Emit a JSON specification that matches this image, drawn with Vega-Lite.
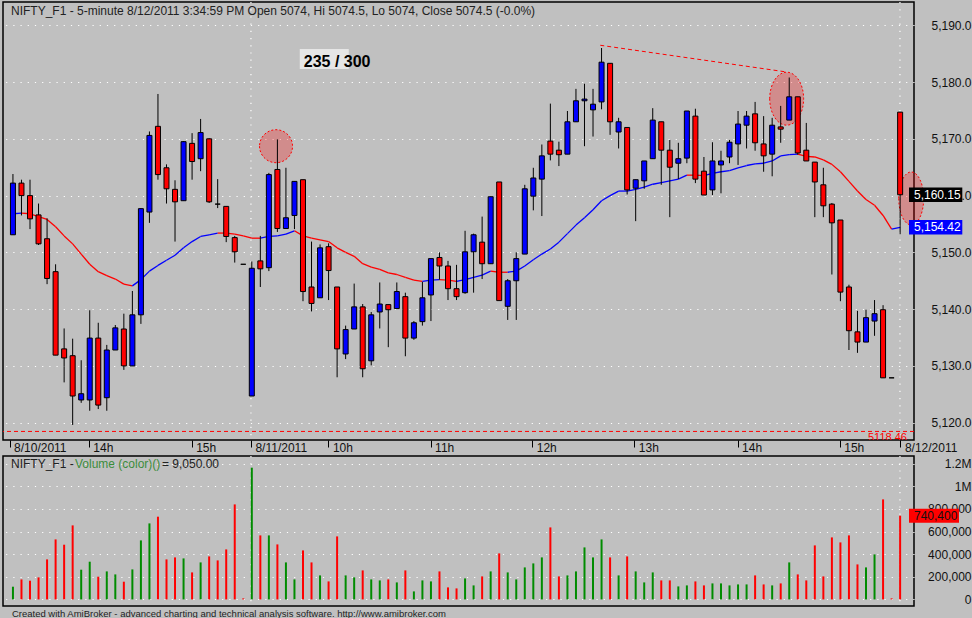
{
  "$schema": "https://vega.github.io/schema/vega-lite/v6.json",
  "background": "#c0c0c0",
  "padding": {"left": 1, "top": 0, "right": 0, "bottom": 0},
  "bounds": "flush",
  "spacing": 16,
  "datasets": {
    "bars": [
      {"bar": 0, "open": 5153.1, "high": 5163.8, "low": 5153.1, "close": 5162.2, "volume": 112400, "ma": 5156.8, "ma_trend": "up"},
      {"bar": 1, "open": 5162.2, "high": 5162.8, "low": 5156.5, "close": 5160.0, "volume": 177000, "ma": 5156.9, "ma_trend": "down"},
      {"bar": 2, "open": 5160.0, "high": 5162.8, "low": 5154.1, "close": 5155.9, "volume": 165500, "ma": 5156.8, "ma_trend": "down"},
      {"bar": 3, "open": 5156.6, "high": 5158.6, "low": 5151.3, "close": 5151.5, "volume": 194700, "ma": 5156.3, "ma_trend": "down"},
      {"bar": 4, "open": 5152.4, "high": 5156.0, "low": 5144.4, "close": 5145.4, "volume": 354000, "ma": 5155.8, "ma_trend": "down"},
      {"bar": 5, "open": 5146.6, "high": 5147.9, "low": 5131.9, "close": 5131.9, "volume": 531000, "ma": 5154.5, "ma_trend": "down"},
      {"bar": 6, "open": 5133.0, "high": 5136.6, "low": 5127.1, "close": 5131.4, "volume": 484000, "ma": 5152.9, "ma_trend": "down"},
      {"bar": 7, "open": 5131.8, "high": 5134.8, "low": 5119.6, "close": 5124.7, "volume": 655000, "ma": 5151.5, "ma_trend": "down"},
      {"bar": 8, "open": 5124.0, "high": 5131.0, "low": 5123.5, "close": 5125.1, "volume": 262800, "ma": 5149.7, "ma_trend": "down"},
      {"bar": 9, "open": 5124.0, "high": 5139.8, "low": 5122.1, "close": 5134.9, "volume": 333600, "ma": 5147.9, "ma_trend": "down"},
      {"bar": 10, "open": 5134.9, "high": 5137.6, "low": 5122.4, "close": 5123.1, "volume": 200900, "ma": 5146.6, "ma_trend": "down"},
      {"bar": 11, "open": 5124.4, "high": 5133.7, "low": 5122.1, "close": 5132.8, "volume": 247800, "ma": 5145.9, "ma_trend": "down"},
      {"bar": 12, "open": 5132.8, "high": 5137.2, "low": 5132.8, "close": 5136.7, "volume": 221200, "ma": 5145.3, "ma_trend": "down"},
      {"bar": 13, "open": 5136.5, "high": 5139.2, "low": 5129.3, "close": 5130.0, "volume": 156600, "ma": 5144.4, "ma_trend": "down"},
      {"bar": 14, "open": 5130.0, "high": 5143.2, "low": 5130.0, "close": 5139.0, "volume": 265500, "ma": 5144.1, "ma_trend": "up"},
      {"bar": 15, "open": 5139.0, "high": 5157.8, "low": 5137.4, "close": 5157.7, "volume": 522100, "ma": 5145.2, "ma_trend": "up"},
      {"bar": 16, "open": 5157.1, "high": 5171.3, "low": 5155.2, "close": 5170.6, "volume": 672600, "ma": 5146.7, "ma_trend": "up"},
      {"bar": 17, "open": 5172.2, "high": 5177.9, "low": 5162.8, "close": 5163.7, "volume": 731900, "ma": 5147.7, "ma_trend": "up"},
      {"bar": 18, "open": 5164.9, "high": 5165.5, "low": 5158.6, "close": 5161.2, "volume": 354000, "ma": 5148.6, "ma_trend": "up"},
      {"bar": 19, "open": 5161.1, "high": 5162.7, "low": 5151.9, "close": 5158.9, "volume": 371700, "ma": 5149.5, "ma_trend": "up"},
      {"bar": 20, "open": 5159.1, "high": 5169.6, "low": 5159.1, "close": 5169.5, "volume": 362800, "ma": 5150.8, "ma_trend": "up"},
      {"bar": 21, "open": 5169.2, "high": 5171.0, "low": 5162.8, "close": 5166.0, "volume": 238900, "ma": 5151.9, "ma_trend": "up"},
      {"bar": 22, "open": 5166.5, "high": 5173.5, "low": 5164.3, "close": 5171.1, "volume": 327400, "ma": 5152.8, "ma_trend": "up"},
      {"bar": 23, "open": 5170.0, "high": 5170.1, "low": 5158.7, "close": 5158.9, "volume": 380500, "ma": 5153.1, "ma_trend": "up"},
      {"bar": 24, "open": 5158.5, "high": 5162.9, "low": 5157.8, "close": 5158.5, "volume": 345100, "ma": 5153.4, "ma_trend": "down"},
      {"bar": 25, "open": 5158.1, "high": 5158.1, "low": 5151.8, "close": 5152.8, "volume": 442500, "ma": 5153.4, "ma_trend": "down"},
      {"bar": 26, "open": 5152.6, "high": 5152.9, "low": 5148.2, "close": 5150.1, "volume": 840700, "ma": 5153.2, "ma_trend": "down"},
      {"bar": 27, "open": 5147.9, "high": 5147.9, "low": 5147.9, "close": 5147.9, "volume": 9050, "ma": 5152.9, "ma_trend": "down"},
      {"bar": 28, "open": 5124.7, "high": 5148.4, "low": 5124.7, "close": 5147.2, "volume": 1165500, "ma": 5152.5, "ma_trend": "down"},
      {"bar": 29, "open": 5148.5, "high": 5152.9, "low": 5143.9, "close": 5147.1, "volume": 566400, "ma": 5152.5, "ma_trend": "up"},
      {"bar": 30, "open": 5147.3, "high": 5164.0, "low": 5146.7, "close": 5163.7, "volume": 566400, "ma": 5152.8, "ma_trend": "up"},
      {"bar": 31, "open": 5164.6, "high": 5169.9, "low": 5153.6, "close": 5154.2, "volume": 486700, "ma": 5152.9, "ma_trend": "up"},
      {"bar": 32, "open": 5154.2, "high": 5164.9, "low": 5154.2, "close": 5156.1, "volume": 327400, "ma": 5153.2, "ma_trend": "up"},
      {"bar": 33, "open": 5156.5, "high": 5162.5, "low": 5154.1, "close": 5162.5, "volume": 177000, "ma": 5153.8, "ma_trend": "down"},
      {"bar": 34, "open": 5162.8, "high": 5162.8, "low": 5141.4, "close": 5143.1, "volume": 433600, "ma": 5152.9, "ma_trend": "down"},
      {"bar": 35, "open": 5143.9, "high": 5151.9, "low": 5139.6, "close": 5141.0, "volume": 327400, "ma": 5152.5, "ma_trend": "down"},
      {"bar": 36, "open": 5142.0, "high": 5151.4, "low": 5142.0, "close": 5150.8, "volume": 212400, "ma": 5152.2, "ma_trend": "down"},
      {"bar": 37, "open": 5151.0, "high": 5151.6, "low": 5141.6, "close": 5146.8, "volume": 159300, "ma": 5151.9, "ma_trend": "down"},
      {"bar": 38, "open": 5143.9, "high": 5143.9, "low": 5128.0, "close": 5133.0, "volume": 557500, "ma": 5150.8, "ma_trend": "down"},
      {"bar": 39, "open": 5132.1, "high": 5137.1, "low": 5131.2, "close": 5136.4, "volume": 212400, "ma": 5150.0, "ma_trend": "down"},
      {"bar": 40, "open": 5136.5, "high": 5144.5, "low": 5136.5, "close": 5140.4, "volume": 194700, "ma": 5149.3, "ma_trend": "down"},
      {"bar": 41, "open": 5140.4, "high": 5140.9, "low": 5128.0, "close": 5129.5, "volume": 256600, "ma": 5148.0, "ma_trend": "down"},
      {"bar": 42, "open": 5130.9, "high": 5139.5, "low": 5130.1, "close": 5139.0, "volume": 177000, "ma": 5147.4, "ma_trend": "down"},
      {"bar": 43, "open": 5139.5, "high": 5144.7, "low": 5136.6, "close": 5140.9, "volume": 168100, "ma": 5147.0, "ma_trend": "down"},
      {"bar": 44, "open": 5140.8, "high": 5140.8, "low": 5133.3, "close": 5139.9, "volume": 177000, "ma": 5146.4, "ma_trend": "down"},
      {"bar": 45, "open": 5140.1, "high": 5144.7, "low": 5140.1, "close": 5143.1, "volume": 150400, "ma": 5146.1, "ma_trend": "down"},
      {"bar": 46, "open": 5142.2, "high": 5142.9, "low": 5131.7, "close": 5134.9, "volume": 256600, "ma": 5145.6, "ma_trend": "down"},
      {"bar": 47, "open": 5134.9, "high": 5137.9, "low": 5134.6, "close": 5137.6, "volume": 70800, "ma": 5145.1, "ma_trend": "down"},
      {"bar": 48, "open": 5137.8, "high": 5144.8, "low": 5137.1, "close": 5142.0, "volume": 168100, "ma": 5144.9, "ma_trend": "up"},
      {"bar": 49, "open": 5142.5, "high": 5148.9, "low": 5137.9, "close": 5148.9, "volume": 159300, "ma": 5145.1, "ma_trend": "up"},
      {"bar": 50, "open": 5149.1, "high": 5150.0, "low": 5145.2, "close": 5147.6, "volume": 247800, "ma": 5145.2, "ma_trend": "down"},
      {"bar": 51, "open": 5147.6, "high": 5148.5, "low": 5141.6, "close": 5143.6, "volume": 106200, "ma": 5145.1, "ma_trend": "down"},
      {"bar": 52, "open": 5143.6, "high": 5147.8, "low": 5141.6, "close": 5142.2, "volume": 97300, "ma": 5144.9, "ma_trend": "up"},
      {"bar": 53, "open": 5142.9, "high": 5153.8, "low": 5142.7, "close": 5150.1, "volume": 185800, "ma": 5145.2, "ma_trend": "up"},
      {"bar": 54, "open": 5150.1, "high": 5153.3, "low": 5142.9, "close": 5153.1, "volume": 123900, "ma": 5145.6, "ma_trend": "up"},
      {"bar": 55, "open": 5151.8, "high": 5156.3, "low": 5145.3, "close": 5148.0, "volume": 203500, "ma": 5146.0, "ma_trend": "up"},
      {"bar": 56, "open": 5148.0, "high": 5159.8, "low": 5148.0, "close": 5159.8, "volume": 247800, "ma": 5146.7, "ma_trend": "down"},
      {"bar": 57, "open": 5162.4, "high": 5162.4, "low": 5141.5, "close": 5141.5, "volume": 407100, "ma": 5146.5, "ma_trend": "down"},
      {"bar": 58, "open": 5140.5, "high": 5145.3, "low": 5138.1, "close": 5145.0, "volume": 238900, "ma": 5146.5, "ma_trend": "up"},
      {"bar": 59, "open": 5145.0, "high": 5150.0, "low": 5138.1, "close": 5148.9, "volume": 177000, "ma": 5146.7, "ma_trend": "up"},
      {"bar": 60, "open": 5149.7, "high": 5161.9, "low": 5149.7, "close": 5161.2, "volume": 283200, "ma": 5147.6, "ma_trend": "up"},
      {"bar": 61, "open": 5159.9, "high": 5164.9, "low": 5157.4, "close": 5163.1, "volume": 318600, "ma": 5148.7, "ma_trend": "up"},
      {"bar": 62, "open": 5162.9, "high": 5169.0, "low": 5156.4, "close": 5167.0, "volume": 371700, "ma": 5149.7, "ma_trend": "up"},
      {"bar": 63, "open": 5169.6, "high": 5176.2, "low": 5166.2, "close": 5167.3, "volume": 637200, "ma": 5150.6, "ma_trend": "up"},
      {"bar": 64, "open": 5168.0, "high": 5169.5, "low": 5165.2, "close": 5167.2, "volume": 203500, "ma": 5151.8, "ma_trend": "up"},
      {"bar": 65, "open": 5167.3, "high": 5174.9, "low": 5167.3, "close": 5173.0, "volume": 212400, "ma": 5153.3, "ma_trend": "up"},
      {"bar": 66, "open": 5173.0, "high": 5178.8, "low": 5173.0, "close": 5176.7, "volume": 247800, "ma": 5154.8, "ma_trend": "up"},
      {"bar": 67, "open": 5176.7, "high": 5179.7, "low": 5168.7, "close": 5177.0, "volume": 460200, "ma": 5156.1, "ma_trend": "up"},
      {"bar": 68, "open": 5175.1, "high": 5178.8, "low": 5170.4, "close": 5176.1, "volume": 371700, "ma": 5157.5, "ma_trend": "up"},
      {"bar": 69, "open": 5176.5, "high": 5186.0, "low": 5175.2, "close": 5183.5, "volume": 531000, "ma": 5159.1, "ma_trend": "up"},
      {"bar": 70, "open": 5183.3, "high": 5183.3, "low": 5170.7, "close": 5173.0, "volume": 371700, "ma": 5160.0, "ma_trend": "up"},
      {"bar": 71, "open": 5171.2, "high": 5173.7, "low": 5168.3, "close": 5173.0, "volume": 212400, "ma": 5160.8, "ma_trend": "up"},
      {"bar": 72, "open": 5172.0, "high": 5172.0, "low": 5160.2, "close": 5161.0, "volume": 380500, "ma": 5160.8, "ma_trend": "up"},
      {"bar": 73, "open": 5161.3, "high": 5162.8, "low": 5155.5, "close": 5162.8, "volume": 247800, "ma": 5161.1, "ma_trend": "up"},
      {"bar": 74, "open": 5162.6, "high": 5166.1, "low": 5161.2, "close": 5166.1, "volume": 150400, "ma": 5161.5, "ma_trend": "up"},
      {"bar": 75, "open": 5166.5, "high": 5175.4, "low": 5166.5, "close": 5173.3, "volume": 238900, "ma": 5162.0, "ma_trend": "up"},
      {"bar": 76, "open": 5173.0, "high": 5173.0, "low": 5161.9, "close": 5168.0, "volume": 168100, "ma": 5162.3, "ma_trend": "up"},
      {"bar": 77, "open": 5168.0, "high": 5169.8, "low": 5156.2, "close": 5165.0, "volume": 168100, "ma": 5162.6, "ma_trend": "up"},
      {"bar": 78, "open": 5165.7, "high": 5169.3, "low": 5162.9, "close": 5166.5, "volume": 115000, "ma": 5162.9, "ma_trend": "up"},
      {"bar": 79, "open": 5166.6, "high": 5174.9, "low": 5165.7, "close": 5174.9, "volume": 123900, "ma": 5163.6, "ma_trend": "down"},
      {"bar": 80, "open": 5174.0, "high": 5175.3, "low": 5162.2, "close": 5162.9, "volume": 159300, "ma": 5163.6, "ma_trend": "down"},
      {"bar": 81, "open": 5164.3, "high": 5166.8, "low": 5160.1, "close": 5160.1, "volume": 123900, "ma": 5163.5, "ma_trend": "up"},
      {"bar": 82, "open": 5161.0, "high": 5169.4, "low": 5160.1, "close": 5166.1, "volume": 141600, "ma": 5163.9, "ma_trend": "up"},
      {"bar": 83, "open": 5165.4, "high": 5167.9, "low": 5160.4, "close": 5166.1, "volume": 141600, "ma": 5164.2, "ma_trend": "up"},
      {"bar": 84, "open": 5166.8, "high": 5169.8, "low": 5165.7, "close": 5169.4, "volume": 123900, "ma": 5164.4, "ma_trend": "up"},
      {"bar": 85, "open": 5169.1, "high": 5174.9, "low": 5165.4, "close": 5172.6, "volume": 132700, "ma": 5164.9, "ma_trend": "up"},
      {"bar": 86, "open": 5172.4, "high": 5174.9, "low": 5168.3, "close": 5174.0, "volume": 132700, "ma": 5165.3, "ma_trend": "up"},
      {"bar": 87, "open": 5174.4, "high": 5176.5, "low": 5167.9, "close": 5169.3, "volume": 212400, "ma": 5165.6, "ma_trend": "up"},
      {"bar": 88, "open": 5169.1, "high": 5174.0, "low": 5164.2, "close": 5167.0, "volume": 132700, "ma": 5165.7, "ma_trend": "up"},
      {"bar": 89, "open": 5167.3, "high": 5173.7, "low": 5163.4, "close": 5172.4, "volume": 123900, "ma": 5166.1, "ma_trend": "up"},
      {"bar": 90, "open": 5172.1, "high": 5175.8, "low": 5169.3, "close": 5171.7, "volume": 141600, "ma": 5167.0, "ma_trend": "up"},
      {"bar": 91, "open": 5173.3, "high": 5180.8, "low": 5173.3, "close": 5177.4, "volume": 327400, "ma": 5167.2, "ma_trend": "up"},
      {"bar": 92, "open": 5177.4, "high": 5177.4, "low": 5167.2, "close": 5167.5, "volume": 221200, "ma": 5167.3, "ma_trend": "down"},
      {"bar": 93, "open": 5168.0, "high": 5172.8, "low": 5166.1, "close": 5166.1, "volume": 168100, "ma": 5166.9, "ma_trend": "down"},
      {"bar": 94, "open": 5165.9, "high": 5165.9, "low": 5156.2, "close": 5162.4, "volume": 477900, "ma": 5166.8, "ma_trend": "down"},
      {"bar": 95, "open": 5161.9, "high": 5164.9, "low": 5156.2, "close": 5158.2, "volume": 203500, "ma": 5166.3, "ma_trend": "down"},
      {"bar": 96, "open": 5158.5, "high": 5158.7, "low": 5146.1, "close": 5155.2, "volume": 548700, "ma": 5165.5, "ma_trend": "down"},
      {"bar": 97, "open": 5155.7, "high": 5155.7, "low": 5141.4, "close": 5143.0, "volume": 504400, "ma": 5164.2, "ma_trend": "down"},
      {"bar": 98, "open": 5143.9, "high": 5144.3, "low": 5132.8, "close": 5136.2, "volume": 566400, "ma": 5162.5, "ma_trend": "down"},
      {"bar": 99, "open": 5136.0, "high": 5139.7, "low": 5132.3, "close": 5134.2, "volume": 309700, "ma": 5160.8, "ma_trend": "down"},
      {"bar": 100, "open": 5134.2, "high": 5139.9, "low": 5134.2, "close": 5138.5, "volume": 283200, "ma": 5159.3, "ma_trend": "down"},
      {"bar": 101, "open": 5137.9, "high": 5141.6, "low": 5135.3, "close": 5139.2, "volume": 398200, "ma": 5158.3, "ma_trend": "down"},
      {"bar": 102, "open": 5139.9, "high": 5140.7, "low": 5127.9, "close": 5127.9, "volume": 885000, "ma": 5156.5, "ma_trend": "down"},
      {"bar": 103, "open": 5127.9, "high": 5127.9, "low": 5127.9, "close": 5127.9, "volume": 9000, "ma": 5154.1, "ma_trend": "up"},
      {"bar": 104, "open": 5174.7, "high": 5174.7, "low": 5153.2, "close": 5160.15, "volume": 740400, "ma": 5154.42, "ma_trend": "-"}
    ],
    "days": [{"bar": 27.9}, {"bar": 103.98}]
  },
  "vconcat": [
    {
      "width": 911,
      "height": 438,
      "layer": [
        {
          "data": {"name": "days"},
          "mark": {"type": "rule", "color": "#ffffff", "strokeWidth": 1.2, "strokeDash": [1.2, 6]},
          "encoding": {
            "x": {
              "field": "bar",
              "type": "quantitative",
              "title": null,
              "scale": {"domain": [-0.58, 105.04], "nice": false, "zero": false},
              "axis": {
                "orient": "bottom",
                "values": [-0.4, 8.9, 20.95, 27.9, 36.98, 48.96, 60.87, 72.84, 84.95, 96.92, 104.03],
                "tickCount": 20,
                "labelExpr": "['8/10/2011','14h','15h','8/11/2011','10h','11h','12h','13h','14h','15h','8/12/2011'][indexof([-0.4, 8.9, 20.95, 27.9, 36.98, 48.96, 60.87, 72.84, 84.95, 96.92, 104.03], datum.value)]",
                "grid": false,
                "domain": false,
                "ticks": true,
                "tickSize": 7,
                "tickColor": "#000000",
                "tickWidth": 1,
                "labelAlign": "left",
                "labelBaseline": "top",
                "labelPadding": -5,
                "labelOffset": 4,
                "labelColor": "#111111",
                "labelFontSize": 12,
                "labelOverlap": false,
                "labelFlush": false,
                "labelBound": false
              }
            }
          }
        },
        {
          "data": {"values": [{"bar": 30.84, "price": 5168.7}]},
          "mark": {"type": "point", "shape": "M-1,0A1,1,0,1,0,1,0A1,1,0,1,0,-1,0Z", "size": 1089, "filled": true, "fill": "#ff0000", "fillOpacity": 0.27, "stroke": "#ff0000", "strokeOpacity": 1, "strokeWidth": 1, "strokeDash": [2, 2], "opacity": 1},
          "encoding": {
            "x": {"field": "bar", "type": "quantitative", "title": null},
            "y": {"field": "price", "type": "quantitative", "title": null}
          }
        },
        {
          "data": {"values": [{"bar": 90.7, "price": 5177.07}]},
          "mark": {"type": "point", "shape": "M-0.64,0A0.64,1,0,1,0,0.64,0A0.64,1,0,1,0,-0.64,0Z", "size": 2809, "filled": true, "fill": "#ff0000", "fillOpacity": 0.27, "stroke": "#ff0000", "strokeOpacity": 1, "strokeWidth": 1, "strokeDash": [2, 2], "opacity": 1},
          "encoding": {
            "x": {"field": "bar", "type": "quantitative", "title": null},
            "y": {"field": "price", "type": "quantitative", "title": null}
          }
        },
        {
          "data": {"values": [{"bar": 105.3, "price": 5159.5}]},
          "mark": {"type": "point", "shape": "M-0.47,0A0.47,1,0,1,0,0.47,0A0.47,1,0,1,0,-0.47,0Z", "size": 2809, "filled": true, "fill": "#ff0000", "fillOpacity": 0.27, "stroke": "#ff0000", "strokeOpacity": 1, "strokeWidth": 1, "strokeDash": [2, 2], "opacity": 1},
          "encoding": {
            "x": {"field": "bar", "type": "quantitative", "title": null},
            "y": {"field": "price", "type": "quantitative", "title": null}
          }
        },
        {
          "data": {"name": "bars"},
          "transform": [
            {"window": [{"op": "lead", "field": "ma", "as": "ma_next"}, {"op": "lead", "field": "bar", "as": "bar_next"}], "sort": [{"field": "bar"}]},
            {"filter": "datum.bar_next != null"}
          ],
          "mark": {"type": "rule", "strokeWidth": 1.3},
          "encoding": {
            "x": {"field": "bar", "type": "quantitative", "title": null},
            "x2": {"field": "bar_next"},
            "y": {"field": "ma", "type": "quantitative", "title": null},
            "y2": {"field": "ma_next"},
            "color": {"condition": {"test": "datum.ma_trend == 'up'", "value": "#0000ff"}, "value": "#ff0000"}
          }
        },
        {
          "data": {"name": "bars"},
          "mark": {"type": "rule", "color": "#000000", "strokeWidth": 1},
          "encoding": {
            "x": {"field": "bar", "type": "quantitative", "title": null},
            "y": {
              "field": "low",
              "type": "quantitative",
              "title": null,
              "scale": {"domain": [5116.95, 5194.1], "nice": false, "zero": false},
              "axis": {
                "orient": "right",
                "values": [5120, 5130, 5140, 5150, 5160, 5170, 5180, 5190],
                "tickCount": 20,
                "format": ",.1f",
                "grid": true,
                "gridColor": "#ffffff",
                "gridDash": [1.2, 6],
                "gridWidth": 1.2,
                "domain": false,
                "ticks": false,
                "tickSize": 0,
                "labelAlign": "right",
                "labelBaseline": "middle",
                "labelPadding": 57,
                "labelColor": "#111111",
                "labelFontSize": 12,
                "labelOverlap": false,
                "labelBound": false
              }
            },
            "y2": {"field": "high"}
          }
        },
        {
          "data": {"name": "bars"},
          "mark": {"type": "bar", "size": 5, "stroke": "#000000", "strokeWidth": 1},
          "encoding": {
            "x": {"field": "bar", "type": "quantitative", "title": null},
            "y": {"field": "open", "type": "quantitative", "title": null},
            "y2": {"field": "close"},
            "color": {"condition": {"test": "datum.close > datum.open", "value": "#0000ff"}, "value": "#ff0000"}
          }
        },
        {
          "data": {"values": [{"bar": 68.85, "price": 5186.48, "bar_end": 90.7, "price_end": 5181.77}]},
          "mark": {"type": "rule", "color": "#ff0000", "strokeWidth": 1, "strokeDash": [4, 3]},
          "encoding": {
            "x": {"field": "bar", "type": "quantitative", "title": null},
            "x2": {"field": "bar_end"},
            "y": {"field": "price", "type": "quantitative", "title": null},
            "y2": {"field": "price_end"}
          }
        },
        {
          "data": {"values": [{"level": 5118.46}]},
          "mark": {"type": "rule", "color": "#ff0000", "strokeWidth": 1, "strokeDash": [4, 3]},
          "encoding": {
            "y": {"field": "level", "type": "quantitative", "title": null}
          }
        },
        {
          "data": {"values": [{"level": 5118.46}]},
          "mark": {"type": "text", "align": "right", "baseline": "top", "dy": 1, "fontSize": 11, "color": "#ff0000", "clip": true},
          "encoding": {
            "x": {"datum": 104.8},
            "y": {"field": "level", "type": "quantitative", "title": null},
            "text": {"field": "level", "format": ".2f"}
          }
        },
        {
          "data": {"values": [{"label": "235 / 300", "bar": 34.09, "price": 5182.65}]},
          "mark": {"type": "point", "shape": "M-0.4,-1.8L4.5,-1.8L4.5,0.2L-0.4,0.2Z", "size": 400, "filled": true, "color": "#e6e6e6", "opacity": 1, "strokeWidth": 0},
          "encoding": {
            "x": {"field": "bar", "type": "quantitative", "title": null},
            "y": {"field": "price", "type": "quantitative", "title": null}
          }
        },
        {
          "data": {"values": [{"label": "235 / 300", "bar": 34.09, "price": 5182.65}]},
          "mark": {"type": "text", "align": "left", "baseline": "alphabetic", "fontSize": 16, "fontWeight": "bold", "color": "#000000"},
          "encoding": {
            "x": {"field": "bar", "type": "quantitative", "title": null},
            "y": {"field": "price", "type": "quantitative", "title": null},
            "text": {"field": "label"}
          }
        },
        {
          "data": {"values": [{"label": "5,160.15", "value": 5160.15, "kind": "close"}, {"label": "5,154.42", "value": 5154.42, "kind": "ma"}]},
          "mark": {"type": "point", "shape": "M0,-0.72L5.33,-0.72L5.33,0.72L0,0.72Z", "size": 400, "filled": true, "opacity": 1, "strokeWidth": 0},
          "encoding": {
            "x": {"datum": 105.04},
            "y": {"field": "value", "type": "quantitative", "title": null},
            "color": {"condition": {"test": "datum.kind == 'close'", "value": "#000000"}, "value": "#0000ff"}
          }
        },
        {
          "data": {"values": [{"label": "5,160.15", "value": 5160.15, "kind": "close"}, {"label": "5,154.42", "value": 5154.42, "kind": "ma"}]},
          "mark": {"type": "text", "align": "left", "baseline": "middle", "dx": 5, "fontSize": 12, "color": "#ffffff"},
          "encoding": {
            "x": {"datum": 105.04},
            "y": {"field": "value", "type": "quantitative", "title": null},
            "text": {"field": "label"}
          }
        },
        {
          "data": {"values": [{"label": "NIFTY_F1 - 5-minute 8/12/2011 3:34:59 PM Open 5074, Hi 5074.5, Lo 5074, Close 5074.5 (-0.0%)"}]},
          "mark": {"type": "text", "align": "left", "baseline": "alphabetic", "fontSize": 12, "color": "#222222"},
          "encoding": {
            "x": {"datum": -0.23},
            "y": {"datum": 5191.87},
            "text": {"field": "label"}
          }
        }
      ]
    },
    {
      "width": 911,
      "height": 150,
      "layer": [
        {
          "data": {"name": "days"},
          "mark": {"type": "rule", "color": "#ffffff", "strokeWidth": 1.2, "strokeDash": [1.2, 6]},
          "encoding": {
            "x": {
              "field": "bar",
              "type": "quantitative",
              "title": null,
              "scale": {"domain": [-0.58, 105.04], "nice": false, "zero": false},
              "axis": null
            }
          }
        },
        {
          "data": {"name": "bars"},
          "mark": {"type": "bar", "size": 2},
          "encoding": {
            "x": {"field": "bar", "type": "quantitative", "title": null},
            "y": {
              "field": "volume",
              "type": "quantitative",
              "title": null,
              "scale": {"domain": [-58400, 1269000], "nice": false, "zero": false},
              "axis": {
                "orient": "right",
                "values": [0, 200000, 400000, 600000, 800000, 1000000, 1200000],
                "tickCount": 20,
                "labelExpr": "datum.value >= 1000000 ? format(datum.value / 1000000, '~g') + 'M' : format(datum.value, ',')",
                "grid": true,
                "gridColor": "#ffffff",
                "gridDash": [1.2, 6],
                "gridWidth": 1.2,
                "domain": false,
                "ticks": false,
                "tickSize": 0,
                "labelAlign": "right",
                "labelBaseline": "middle",
                "labelPadding": 57,
                "labelColor": "#111111",
                "labelFontSize": 12,
                "labelOverlap": false,
                "labelBound": false
              }
            },
            "y2": {"datum": 0},
            "color": {"condition": {"test": "datum.close > datum.open", "value": "#008c00"}, "value": "#ff0000"}
          }
        },
        {
          "data": {"values": [{"label": "740,400", "value": 740400}]},
          "mark": {"type": "point", "shape": "M0,-0.7L5,-0.7L5,0.7L0,0.7Z", "size": 400, "filled": true, "color": "#ff0000", "opacity": 1, "strokeWidth": 0},
          "encoding": {
            "x": {"datum": 105.04},
            "y": {"field": "value", "type": "quantitative", "title": null}
          }
        },
        {
          "data": {"values": [{"label": "740,400", "value": 740400}]},
          "mark": {"type": "text", "align": "left", "baseline": "middle", "dx": 5, "fontSize": 12, "color": "#111111"},
          "encoding": {
            "x": {"datum": 105.04},
            "y": {"field": "value", "type": "quantitative", "title": null},
            "text": {"field": "label"}
          }
        },
        {
          "data": {"values": [{"label": "NIFTY_F1 - "}]},
          "mark": {"type": "text", "align": "left", "baseline": "alphabetic", "fontSize": 12, "color": "#222222"},
          "encoding": {
            "x": {"datum": -0.23},
            "y": {"datum": 1159300},
            "text": {"field": "label"}
          }
        },
        {
          "data": {"values": [{"label": "Volume (color)()"}]},
          "mark": {"type": "text", "align": "left", "baseline": "alphabetic", "fontSize": 12, "dx": 64, "color": "#3c8c3c"},
          "encoding": {
            "x": {"datum": -0.23},
            "y": {"datum": 1159300},
            "text": {"field": "label"}
          }
        },
        {
          "data": {"values": [{"label": " = 9,050.00"}]},
          "mark": {"type": "text", "align": "left", "baseline": "alphabetic", "fontSize": 12, "dx": 151, "color": "#222222"},
          "encoding": {
            "x": {"datum": -0.23},
            "y": {"datum": 1159300},
            "text": {"field": "label"}
          }
        },
        {
          "data": {"values": [{"label": "Created with AmiBroker - advanced charting and technical analysis software. http://www.amibroker.com"}]},
          "mark": {"type": "text", "align": "left", "baseline": "alphabetic", "fontSize": 9.5, "color": "#222222"},
          "encoding": {
            "x": {"datum": -0.12},
            "y": {"datum": -157500},
            "text": {"field": "label"}
          }
        }
      ]
    }
  ],
  "config": {
    "font": "Liberation Sans",
    "view": {"stroke": "#000000", "strokeWidth": 1.5},
    "axis": {"labelFont": "Liberation Sans", "labelOverlap": false},
    "text": {"font": "Liberation Sans"}
  }
}
